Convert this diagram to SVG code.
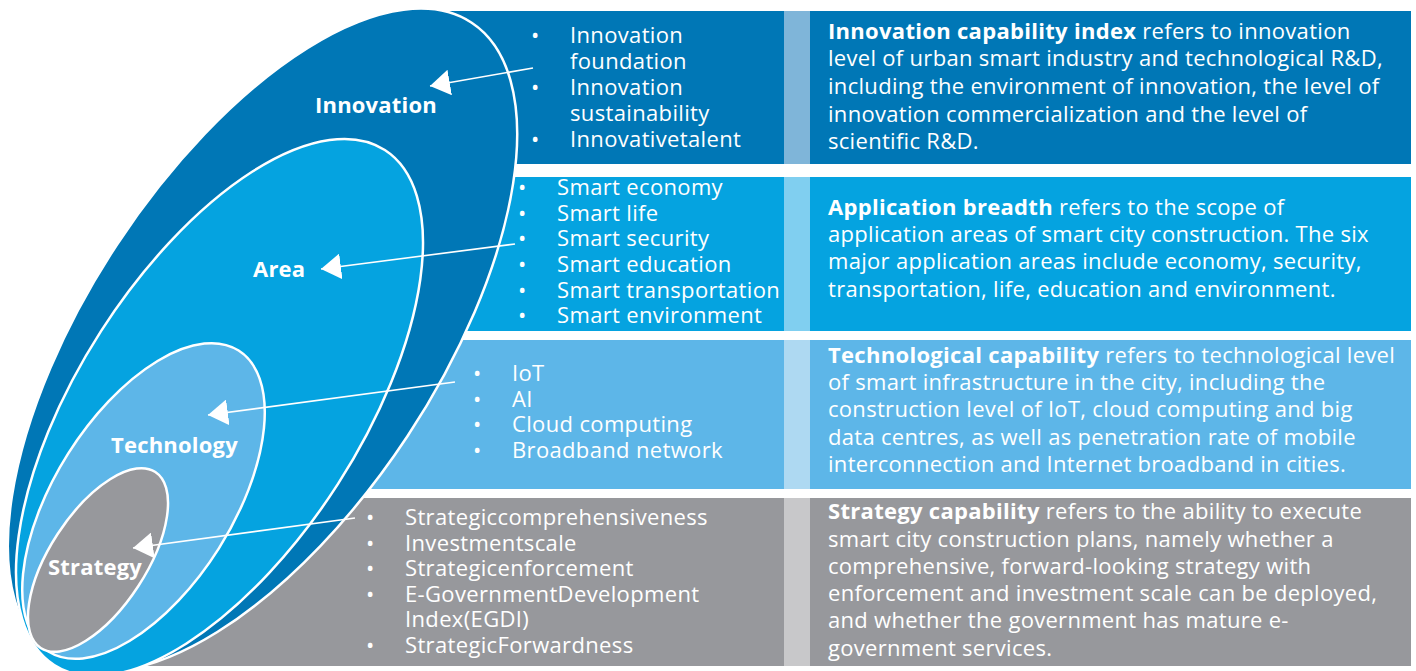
<svg xmlns="http://www.w3.org/2000/svg" width="1416" height="671" viewBox="0 0 1416 671">
<style>
.bl{fill:#ffffff;font-family:"Open Sans","Liberation Sans",sans-serif;font-size:22px;letter-spacing:0.35px;}
.lab{fill:#ffffff;font-family:"Open Sans","Liberation Sans",sans-serif;font-size:22px;font-weight:bold;letter-spacing:0.2px;}
.desc{fill:#ffffff;font-family:"Open Sans","Liberation Sans",sans-serif;font-size:22px;letter-spacing:0.3px;}
.desc .b{font-weight:bold;}
.ell{stroke:#ffffff;stroke-width:2.5;}
.conn{stroke:#ffffff;stroke-width:1.6;fill:none;marker-end:url(#ah);}
</style>
<defs>
<marker id="ah" markerUnits="userSpaceOnUse" viewBox="0 0 20 26" markerWidth="20" markerHeight="26" refX="20" refY="13" orient="auto">
<path d="M0,0 L20,13 L0,26 z" fill="#ffffff"/>
</marker>
</defs>
<rect width="1416" height="671" fill="#ffffff"/>
<g id="band-innovation">
<rect x="448" y="11" width="336" height="153" fill="#0077B6"/>
<rect x="784" y="11" width="26" height="153" fill="#7FB5D9"/>
<rect x="810" y="11" width="601" height="153" fill="#0077B6"/>
<text class="bl"><tspan x="531" y="43">•</tspan><tspan x="570" y="43">Innovation</tspan><tspan x="570" y="69">foundation</tspan><tspan x="531" y="95">•</tspan><tspan x="570" y="95">Innovation</tspan><tspan x="570" y="121">sustainability</tspan><tspan x="531" y="147">•</tspan><tspan x="570" y="147">Innovativetalent</tspan></text>
<text class="desc"><tspan x="828" y="39"><tspan class="b">Innovation capability index</tspan> refers to innovation</tspan><tspan x="828" y="66">level of urban smart industry and technological R&amp;D,</tspan><tspan x="828" y="94">including the environment of innovation, the level of</tspan><tspan x="828" y="122">innovation commercialization and the level of</tspan><tspan x="828" y="149">scientific R&amp;D.</tspan></text>
</g>
<g id="band-area">
<rect x="300" y="177" width="484" height="154" fill="#05A3E0"/>
<rect x="784" y="177" width="26" height="154" fill="#80CFF0"/>
<rect x="810" y="177" width="601" height="154" fill="#05A3E0"/>
<text class="bl"><tspan x="518" y="195">•</tspan><tspan x="557" y="195">Smart economy</tspan><tspan x="518" y="221">•</tspan><tspan x="557" y="221">Smart life</tspan><tspan x="518" y="246">•</tspan><tspan x="557" y="246">Smart security</tspan><tspan x="518" y="272">•</tspan><tspan x="557" y="272">Smart education</tspan><tspan x="518" y="298">•</tspan><tspan x="557" y="298">Smart transportation</tspan><tspan x="518" y="323">•</tspan><tspan x="557" y="323">Smart environment</tspan></text>
<text class="desc"><tspan x="828" y="215"><tspan class="b">Application breadth</tspan> refers to the scope of</tspan><tspan x="828" y="242">application areas of smart city construction. The six</tspan><tspan x="828" y="269">major application areas include economy, security,</tspan><tspan x="828" y="297">transportation, life, education and environment.</tspan></text>
</g>
<g id="band-technology">
<rect x="200" y="340" width="584" height="149" fill="#5DB6E8"/>
<rect x="784" y="340" width="26" height="149" fill="#AED9F2"/>
<rect x="810" y="340" width="601" height="149" fill="#5DB6E8"/>
<text class="bl"><tspan x="473" y="381">•</tspan><tspan x="512" y="381">IoT</tspan><tspan x="473" y="407">•</tspan><tspan x="512" y="407">AI</tspan><tspan x="473" y="432">•</tspan><tspan x="512" y="432">Cloud computing</tspan><tspan x="473" y="458">•</tspan><tspan x="512" y="458">Broadband network</tspan></text>
<text class="desc"><tspan x="828" y="363"><tspan class="b">Technological capability</tspan> refers to technological level</tspan><tspan x="828" y="390">of smart infrastructure in the city, including the</tspan><tspan x="828" y="417">construction level of IoT, cloud computing and big</tspan><tspan x="828" y="445">data centres, as well as penetration rate of mobile</tspan><tspan x="828" y="472">interconnection and Internet broadband in cities.</tspan></text>
</g>
<g id="band-strategy">
<rect x="120" y="498" width="664" height="168" fill="#97989C"/>
<rect x="784" y="498" width="26" height="168" fill="#C8C8CA"/>
<rect x="810" y="498" width="601" height="168" fill="#97989C"/>
<text class="bl"><tspan x="366" y="525">•</tspan><tspan x="405" y="525">Strategiccomprehensiveness</tspan><tspan x="366" y="551">•</tspan><tspan x="405" y="551">Investmentscale</tspan><tspan x="366" y="576">•</tspan><tspan x="405" y="576">Strategicenforcement</tspan><tspan x="366" y="602">•</tspan><tspan x="405" y="602">E-GovernmentDevelopment</tspan><tspan x="405" y="627">Index(EGDI)</tspan><tspan x="366" y="653">•</tspan><tspan x="405" y="653">StrategicForwardness</tspan></text>
<text class="desc"><tspan x="828" y="519"><tspan class="b">Strategy capability</tspan> refers to the ability to execute</tspan><tspan x="828" y="547">smart city construction plans, namely whether a</tspan><tspan x="828" y="574">comprehensive, forward-looking strategy with</tspan><tspan x="828" y="601">enforcement and investment scale can be deployed,</tspan><tspan x="828" y="628">and whether the government has mature e-</tspan><tspan x="828" y="656">government services.</tspan></text>
</g>
<g id="ellipse-innovation">
<ellipse class="ell" cx="262.5" cy="340" rx="380" ry="174" fill="#0077B6" transform="rotate(-56.6 262.5 340)"/>
<text class="lab" x="315" y="113">Innovation</text>
</g>
<g id="ellipse-area">
<ellipse class="ell" cx="219.5" cy="407.5" rx="306" ry="141" fill="#05A3E0" transform="rotate(-57.3 219.5 407.5)"/>
<text class="lab" x="253" y="277">Area</text>
</g>
<g id="ellipse-technology">
<ellipse class="ell" cx="143.5" cy="501" rx="178" ry="89" fill="#5DB6E8" transform="rotate(-57.7 143.5 501)"/>
<text class="lab" x="111" y="453">Technology</text>
</g>
<g id="ellipse-strategy">
<ellipse class="ell" cx="98" cy="560" rx="105" ry="48" fill="#97989C" transform="rotate(-56.9 98 560)"/>
<text class="lab" x="48" y="575">Strategy</text>
</g>
<g id="connectors">
<line class="conn" x1="533" y1="68" x2="430" y2="86"/>
<line class="conn" x1="515" y1="244" x2="321" y2="269"/>
<line class="conn" x1="455" y1="382" x2="208" y2="415"/>
<line class="conn" x1="355" y1="518" x2="133" y2="548"/>
</g>
</svg>
